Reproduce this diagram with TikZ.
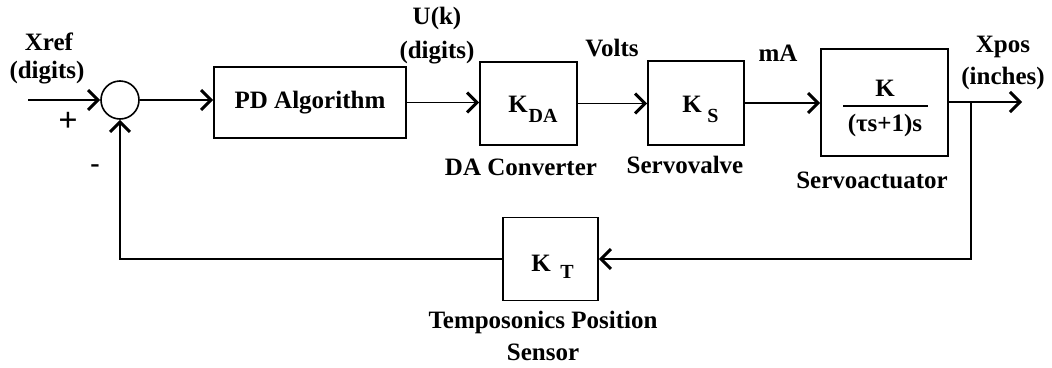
\documentclass[tikz,border=0pt]{standalone}
\usepackage{fontspec}
\setmainfont{Liberation Serif}
\usetikzlibrary{arrows.meta}
\begin{document}
\begin{tikzpicture}[x=1pt,y=1pt,line width=1.6pt,
  every node/.style={font=\fontsize{25}{28}\selectfont\bfseries},
  blk/.style={draw, inner sep=0pt},
  lbl/.style={inner sep=0pt},
  sub/.style={font=\fontsize{20}{20}\selectfont\bfseries},
  arr/.style={-{Straight Barb[length=10pt,width=20pt,line width=3pt]}}]
\useasboundingbox (0,0) rectangle (1052,-367);
% blocks
\node[draw, circle, minimum size=38pt, inner sep=0pt] (sum) at (120,-100) {};
\node[blk, minimum width=192pt, minimum height=71pt] (pd) at (310,-102.5) {PD Algorithm};
\node[blk, minimum width=97pt, minimum height=83pt] (kda) at (528.5,-103.5) {};
\node[blk, minimum width=96pt, minimum height=84pt] (ks) at (696,-103) {};
\node[blk, minimum width=127pt, minimum height=107pt] (sa) at (884.5,-102.5) {};
\node[blk, minimum width=95pt, minimum height=83pt] (kt) at (550.5,-259) {};
% block contents
\node[lbl] (kdaK) at (518,-104) {K};
\node[lbl, sub] (kdaS) at (543,-116) {DA};
\node[lbl] (ksK) at (692,-104) {K};
\node[lbl, sub] (ksS) at (713,-116) {S};
\node[lbl] (ktK) at (541,-263) {K};
\node[lbl, sub] (ktS) at (567,-272) {T};
\node[lbl] (num) at (885,-88) {K};
\node[lbl] (den) at (885,-125) {(τs+1)s};
\coordinate (fl) at (843,-106);
\coordinate (fr) at (928,-106);
\draw[line width=1.3pt] (fl) -- (fr);
% coordinates
\coordinate (in) at (28,-100);
\coordinate (br) at (971,-102);
\coordinate (out) at (1022,-102);
\coordinate (fb) at (971,-259);
% connectors
\draw[arr] (in) -- (sum.west);
\draw[arr] (sum.east) -- (sum.east -| pd.west);
\draw[arr] (pd.east) -- (pd.east -| kda.west);
\draw[arr] (kda.east) -- (kda.east -| ks.west);
\draw[arr] (ks.east) -- (ks.east -| sa.west);
\draw[arr] (sa.east |- out) -- (out);
\draw[arr] (br) -- (fb) -- (kt.east);
\draw[arr] (kt.west) -- (kt.west -| sum.south) -- (sum.south);
% labels
\node[lbl] (xref) at (49,-42) {Xref};
\node[lbl] (xrefd) at (47,-73) {(digits)};
\node[lbl, font=\fontsize{34}{34}\selectfont\bfseries] (plus) at (68,-122) {+};
\node[lbl, font=\fontsize{28}{28}\selectfont\bfseries] (minus) at (95,-169) {-};
\node[lbl] (uk) at (437,-18) {U(k)};
\node[lbl] (ukd) at (437,-53) {(digits)};
\node[lbl] (volts) at (612,-48) {Volts};
\node[lbl] (ma) at (778,-53) {mA};
\node[lbl] (xpos) at (1003,-47) {Xpos};
\node[lbl] (xposi) at (1003,-78) {(inches)};
\node[lbl] (dac) at (521,-167) {DA Converter};
\node[lbl] (sv) at (685,-165) {Servovalve};
\node[lbl] (sact) at (872,-180) {Servoactuator};
\node[lbl] (tps) at (543,-322) {Temposonics Position};
\node[lbl] (sens) at (543,-352) {Sensor};
\end{tikzpicture}
\end{document}
